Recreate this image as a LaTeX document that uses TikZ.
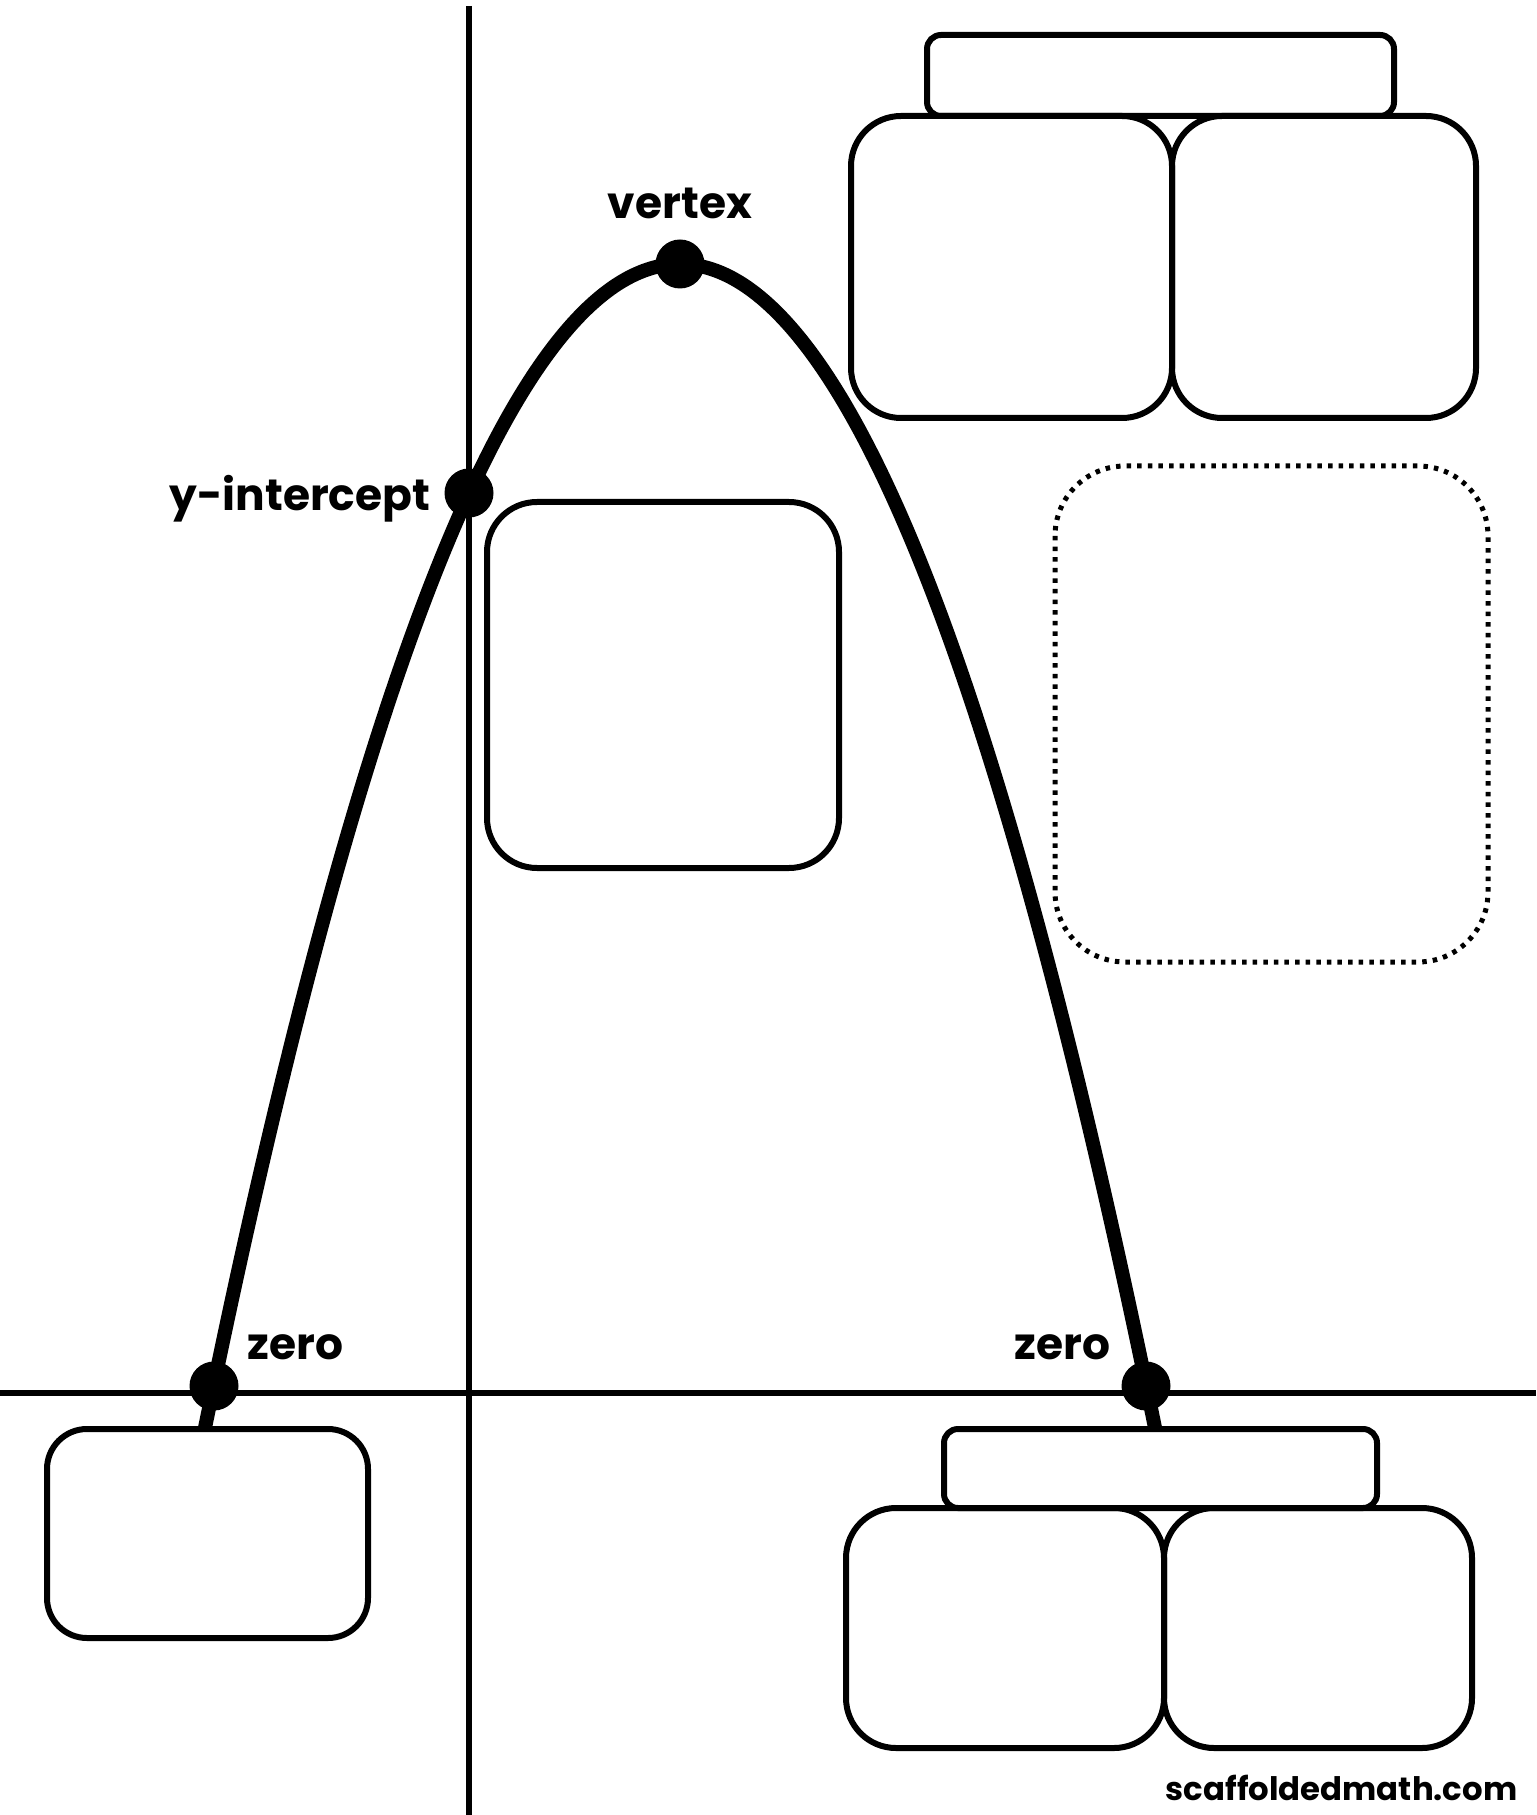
\documentclass[tikz,border=0pt]{standalone}
\usepackage{fontspec}
\setmainfont{Poppins}
\usetikzlibrary{calc}

\begin{document}
\begin{tikzpicture}[x=0.1mm, y=-0.1mm,
    box/.style={line width=0.6mm, rounded corners=5mm},
    bar/.style={line width=0.6mm, rounded corners=1.4mm},
    dotbox/.style={line width=0.5mm, rounded corners=7mm, dash pattern=on 0.45mm off 0.61mm},
    axis/.style={line width=0.6mm},
    pnt/.style={circle, fill=black, inner sep=0pt, minimum size=4.9mm},
    lbl/.style={font=\fontsize{12.5}{15}\selectfont\bfseries, inner sep=0pt}]

\useasboundingbox (0,0) rectangle (1536,1815);

% Axes
\coordinate (O) at (469,1393);
\draw[axis] (469,6) -- (469,1815);
\draw[axis] (0,1393) -- (1536,1393);

% Boxes top right
\draw[bar] (927,35) rectangle (1394,116);
\draw[box] (851,116) rectangle (1172,418);
\draw[box] (1172,116) rectangle (1476,418);

% Box under the y-intercept
\draw[box] (487,502) rectangle (839,868);

% Dotted box
\draw[dotbox] (1055,466) rectangle (1488,962);

% Box under left zero
\draw[box, rounded corners=4mm] (47,1429) rectangle (368,1638);

% Boxes under right zero
\draw[bar] (944,1429) rectangle (1377,1508);
\draw[box] (846,1508) rectangle (1164,1748);
\draw[box] (1164,1508) rectangle (1472,1748);

% Parabola
\draw[line width=1.4mm] plot[domain=-475.4:475.4, samples=120, smooth]
    ({680+\x}, {264+51.58*(\x/100)*(\x/100)});

% Points
\node[pnt] (V) at (680,264) {};
\node[pnt] (Y) at (469,493) {};
\node[pnt] (Z1) at (214,1386) {};
\node[pnt] (Z2) at (1146,1386) {};

% Labels
\node[lbl, anchor=base] (lblvertex) at (680,219) {vertex};
\node[lbl, anchor=base east] (lblyint) at (431,511) {y-intercept};
\node[lbl, anchor=base west] (lblzero1) at (247,1359) {zero};
\node[lbl, anchor=base east] (lblzero2) at (1111,1359) {zero};
\node[font=\fontsize{9.2}{11}\selectfont\bfseries, inner sep=0pt, anchor=base east] (site) at (1518,1800) {scaffoldedmath.com};

\end{tikzpicture}
\end{document}
